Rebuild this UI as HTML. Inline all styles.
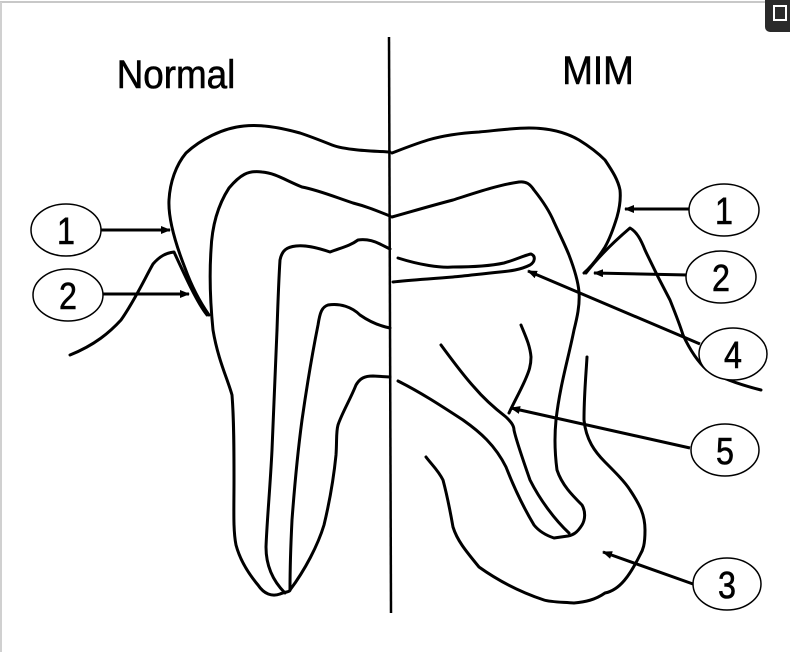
<!DOCTYPE html>
<html><head><style>
html,body{margin:0;padding:0;background:#fff;}
svg{display:block;}
</style></head><body>
<svg width="790" height="652" viewBox="0 0 790 652" xmlns="http://www.w3.org/2000/svg">
<defs>
<marker id="ah" markerWidth="10" markerHeight="8" refX="9" refY="4" orient="auto" markerUnits="userSpaceOnUse">
<path d="M0,0 L10,4 L0,8 z" fill="#000"/>
</marker>
</defs>
<rect width="790" height="652" fill="#fff"/>
<line x1="0" y1="2" x2="770" y2="2" stroke="#c8c8c8" stroke-width="2"/>
<line x1="1" y1="2" x2="1" y2="652" stroke="#d0d0d0" stroke-width="2"/>
<rect x="765" y="-6" width="32" height="38" rx="5" fill="#2a2a2a"/>
<rect x="774" y="6" width="12" height="14" fill="none" stroke="#fff" stroke-width="2"/>

<text x="176" y="88" font-family="Liberation Sans, sans-serif" font-size="40" text-anchor="middle" stroke="#000" stroke-width="0.6" transform="translate(176 0) scale(0.92 1) translate(-176 0)">Normal</text>
<text x="598" y="84" font-family="Liberation Sans, sans-serif" font-size="40" text-anchor="middle" stroke="#000" stroke-width="0.6" transform="translate(598 0) scale(0.92 1) translate(-598 0)">MIM</text>

<line x1="389" y1="37" x2="391" y2="613" stroke="#000" stroke-width="2.5"/>

<g fill="none" stroke="#000" stroke-width="3" stroke-linecap="round" stroke-linejoin="round">
<path d="M390,152 C370,151 345,150 332,145 C322,141 312,137 300,133 C282,128 262,124 244,126 C222,128 200,140 186,153 C176,165 170,182 169,200 C168,220 176,245 185,268 C193,290 202,305 209,315"/>
<path d="M70,355 C95,345 110,332 121,320 C135,300 145,278 153,264 C160,256 166,253 174,252 C180,265 186,278 191,288 C197,300 203,310 207,315"/>
<path d="M390,216 C375,210 365,206 353,203 C335,197 318,190 302,187 C285,180 275,173 262,172 C248,170 240,175 229,188 C218,205 212,225 211,250 C209,280 211,310 213,330 C218,360 228,380 232,395 C234,420 234,450 234,480 C234,510 233,530 236,545 C240,560 248,573 258,585 C264,594 272,597 280,594 C284,592 290,592 290,590"/>
<path d="M277,330 C278,300 279,275 280,260 C282,250 287,247 296,246 C305,245 315,247 330,252 C340,248 350,246 358,240 C365,239 372,240 380,244 L390,249"/>
<path d="M277,330 C275,380 273,420 272,450 C270,490 267,520 266,547 C266,565 272,580 285,593"/>
<path d="M290,590 C290,560 291,540 292,520 C295,480 298,450 302,420 C307,385 313,350 318,325 C320,312 322,307 328,305 C340,303 352,307 360,315 C370,322 380,326 390,328"/>
<path d="M290,590 C305,570 318,545 324,525 C330,500 334,475 336,455 C337,440 336,432 338,425 C342,413 350,400 356,385 C360,378 365,376 373,376 L390,377"/>

<path d="M392,153 C405,148 415,144 428,140 C445,135 462,133 479,132 C500,130 515,128 529,128 C550,128 567,133 579,140 C592,148 600,155 605,160 C613,172 618,180 620,190 C621,200 619,210 617,217 C613,230 609,240 605,247 C598,258 592,266 584,273"/>
<path d="M392,217 C410,212 430,206 453,200 C475,193 498,185 519,182 C526,181 530,184 534,190 C542,200 549,210 554,222 C560,235 565,245 569,255 C574,268 578,280 579,292 C580,305 577,318 574,330 C568,360 560,385 556,420 C554,440 555,455 557,470 C562,485 572,495 582,505 C586,512 585,520 582,525 C577,533 573,535 568,536 L554,538 C545,535 538,530 534,525 C525,510 515,490 506,467 C495,445 480,432 463,420 C440,405 420,392 398,381"/>
<path d="M587,357 C586,375 584,395 584,420 C586,440 595,452 605,462 C615,472 625,482 630,490 C640,505 645,515 645,530 C645,545 643,550 640,555 C630,575 620,590 605,593 C595,600 585,602 574,603 C560,602 550,602 544,600 C520,592 500,582 479,567 C465,550 457,540 453,527 C450,510 447,495 443,480 C438,470 432,465 426,457"/>
<path d="M398,258 C420,265 440,268 453,267 C470,267 490,266 504,263 C515,260 525,255 531,254 C536,256 535,262 530,265 C520,270 510,271 500,272 C480,274 465,276 453,277 C430,279 410,280 393,282"/>
<path d="M441,345 C452,360 463,375 474,387 C485,400 497,410 506,417 C510,421 514,425 514,430 C516,440 523,460 530,480 C540,500 555,520 569,533"/>
<path d="M521,325 C525,335 530,345 531,357 C531,367 528,373 526,378 C521,390 514,402 509,413"/>
<path d="M586,273 C596,260 610,245 630,228 C637,232 641,240 645,250 C652,265 662,285 670,300 C676,315 680,325 683,335 C690,350 698,362 707,370 C725,380 745,386 761,390"/>
</g>

<g fill="none" stroke="#000" stroke-width="3">
<line x1="101" y1="230" x2="170" y2="230" marker-end="url(#ah)"/>
<line x1="103" y1="294" x2="189" y2="294" marker-end="url(#ah)"/>
<line x1="690" y1="209" x2="625" y2="209" marker-end="url(#ah)"/>
<line x1="688" y1="275" x2="594" y2="273" marker-end="url(#ah)"/>
<line x1="700" y1="344" x2="528" y2="271" marker-end="url(#ah)"/>
<line x1="690" y1="448" x2="511" y2="408" marker-end="url(#ah)"/>
<line x1="693" y1="584" x2="603" y2="552" marker-end="url(#ah)"/>
</g>

<g fill="#fff" stroke="#000" stroke-width="1.5">
<ellipse cx="66" cy="230" rx="35" ry="26"/>
<ellipse cx="68" cy="295" rx="35" ry="26"/>
<ellipse cx="724" cy="210" rx="35" ry="26"/>
<ellipse cx="721" cy="277" rx="35" ry="26"/>
<ellipse cx="733" cy="354" rx="34" ry="26"/>
<ellipse cx="725" cy="450" rx="34" ry="26"/>
<ellipse cx="727" cy="584" rx="34" ry="26"/>
</g>
<g font-family="Liberation Sans, sans-serif" font-size="38" text-anchor="middle" stroke="#000" stroke-width="0.6">
<text x="66" y="244" transform="translate(66 0) scale(0.85 1) translate(-66 0)">1</text>
<text x="68" y="309" transform="translate(68 0) scale(0.85 1) translate(-68 0)">2</text>
<text x="724" y="224" transform="translate(724 0) scale(0.85 1) translate(-724 0)">1</text>
<text x="721" y="291" transform="translate(721 0) scale(0.85 1) translate(-721 0)">2</text>
<text x="733" y="368" transform="translate(733 0) scale(0.85 1) translate(-733 0)">4</text>
<text x="725" y="464" transform="translate(725 0) scale(0.85 1) translate(-725 0)">5</text>
<text x="727" y="598" transform="translate(727 0) scale(0.85 1) translate(-727 0)">3</text>
</g>
</svg>
</body></html>
